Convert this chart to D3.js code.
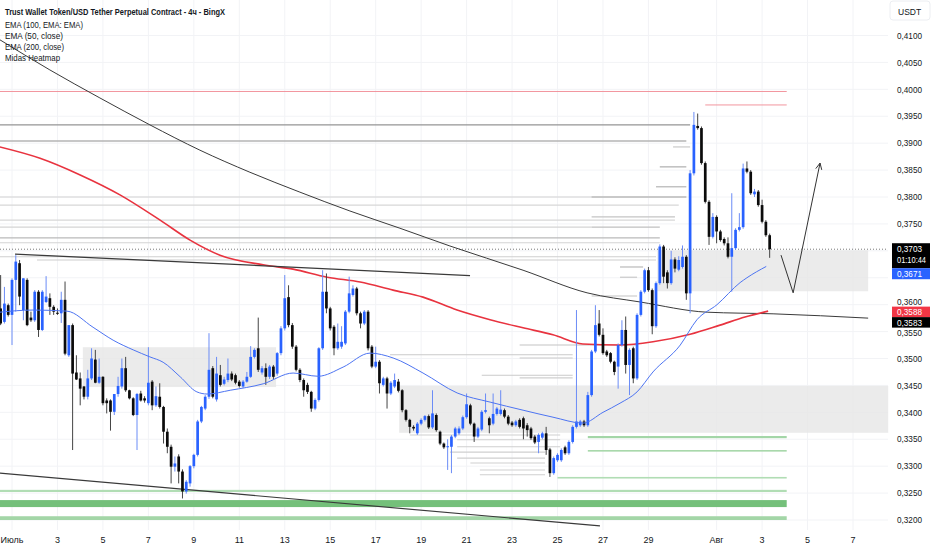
<!DOCTYPE html>
<html><head><meta charset="utf-8">
<script src="https://cdn.jsdelivr.net/npm/d3@7/dist/d3.min.js"></script>
<style>
body{margin:0;background:#fff;}
svg{display:block;font-family:"Liberation Sans","Arial",sans-serif;}
</style>
</head><body>
<svg id="c" width="932" height="550"></svg>
<script>
// ---------- DATA ----------
const title = "Trust Wallet Token/USD Tether Perpetual Contract - 4ч - BingX";
const legendItems = ["EMA (100, EMA: EMA)", "EMA (50, close)", "EMA (200, close)", "Midas Heatmap"];
// 4h candles [open, high, low, close], first = 30 Jun 12:00
const candles = [
[.3593,.3655,.3562,.3565],[.3568,.3633,.3565,.3602],[.3599,.3602,.3578,.3581],[.3581,.3649,.3525,.3646],
[.3646,.3692,.3587,.3680],[.3677,.3683,.3599,.3615],[.3590,.3649,.3571,.3649],[.3646,.3649,.3560,.3562],
[.3576,.3587,.3568,.3571],[.3571,.3627,.3568,.3624],[.3624,.3627,.3540,.3553],[.3553,.3627,.3551,.3624],
[.3605,.3653,.3603,.3615],[.3612,.3621,.3581,.3596],[.3596,.3599,.3581,.3587],[.3585,.3593,.3581,.3583],
[.3584,.3624,.3566,.3609],[.3609,.3643,.3506,.3509],[.3506,.3562,.3503,.3562],[.3562,.3565,.3330,.3472],
[.3474,.3506,.3460,.3461],[.3463,.3474,.3413,.3444],[.3448,.3449,.3424,.3429],[.3429,.3479,.3424,.3463],
[.3463,.3519,.3460,.3500],[.3498,.3516,.3454,.3455],[.3455,.3500,.3453,.3466],[.3466,.3467,.3413,.3417],
[.3422,.3426,.3398,.3417],[.3422,.3424,.3366,.3401],[.3401,.3434,.3395,.3434],[.3434,.3466,.3429,.3449],
[.3448,.3500,.3444,.3482],[.3482,.3503,.3438,.3441],[.3441,.3442,.3424,.3426],[.3426,.3428,.3393,.3395],
[.3395,.3436,.3330,.3434],[.3435,.3440,.3420,.3422],[.3426,.3430,.3418,.3422],[.3417,.3521,.3413,.3455],
[.3457,.3460,.3404,.3413],[.3413,.3448,.3410,.3430],[.3429,.3454,.3407,.3410],[.3410,.3412,.3342,.3364],
[.3364,.3370,.3324,.3336],[.3336,.3340,.3268,.3299],[.3299,.3318,.3290,.3305],[.3318,.3322,.3268,.3290],
[.3290,.3294,.3240,.3253],[.3253,.3274,.3249,.3271],[.3268,.3302,.3262,.3300],[.3300,.3323,.3296,.3321],
[.3321,.3386,.3318,.3383],[.3383,.3412,.3380,.3410],[.3407,.3432,.3404,.3429],[.3429,.3547,.3425,.3479],
[.3482,.3486,.3426,.3429],[.3424,.3503,.3420,.3472],[.3469,.3488,.3448,.3451],[.3453,.3466,.3450,.3461],
[.3460,.3500,.3456,.3472],[.3472,.3476,.3458,.3461],[.3469,.3472,.3452,.3455],[.3457,.3460,.3446,.3449],
[.3448,.3460,.3445,.3457],[.3457,.3475,.3455,.3466],[.3466,.3523,.3464,.3503],[.3503,.3519,.3500,.3516],
[.3519,.3576,.3475,.3479],[.3474,.3486,.3470,.3482],[.3482,.3491,.3451,.3466],[.3466,.3488,.3462,.3485],
[.3485,.3488,.3462,.3466],[.3472,.3512,.3468,.3510],[.3510,.3560,.3506,.3556],[.3556,.3655,.3552,.3612],
[.3614,.3636,.3558,.3562],[.3562,.3566,.3518,.3522],[.3522,.3525,.3476,.3479],[.3479,.3482,.3456,.3460],
[.3460,.3463,.3429,.3441],[.3451,.3455,.3434,.3438],[.3438,.3440,.3401,.3407],[.3407,.3426,.3404,.3423],
[.3423,.3521,.3420,.3519],[.3519,.3664,.3516,.3624],[.3624,.3658,.3584,.3593],[.3593,.3596,.3552,.3556],
[.3559,.3562,.3506,.3519],[.3519,.3565,.3516,.3531],[.3522,.3560,.3518,.3531],[.3528,.3590,.3525,.3587],
[.3587,.3652,.3584,.3621],[.3618,.3636,.3615,.3630],[.3630,.3633,.3580,.3584],[.3584,.3587,.3556,.3565],
[.3565,.3590,.3562,.3587],[.3587,.3590,.3515,.3519],[.3522,.3525,.3482,.3485],[.3485,.3522,.3482,.3494],
[.3494,.3497,.3435,.3454],[.3451,.3466,.3448,.3463],[.3463,.3466,.3407,.3435],[.3435,.3458,.3432,.3455],
[.3448,.3472,.3445,.3460],[.3457,.3462,.3437,.3440],[.3441,.3443,.3400,.3404],[.3404,.3406,.3383,.3386],
[.3386,.3388,.3361,.3373],[.3373,.3376,.3366,.3370],[.3361,.3382,.3358,.3379],[.3379,.3389,.3376,.3386],
[.3386,.3395,.3383,.3393],[.3393,.3396,.3369,.3372],[.3372,.3441,.3369,.3398],[.3395,.3398,.3364,.3367],
[.3364,.3366,.3339,.3342],[.3342,.3344,.3332,.3335],[.3336,.3350,.3293,.3337],[.3336,.3358,.3287,.3355],
[.3355,.3373,.3352,.3370],[.3361,.3374,.3358,.3370],[.3370,.3394,.3367,.3391],[.3391,.3435,.3388,.3415],
[.3413,.3416,.3376,.3379],[.3379,.3381,.3345,.3355],[.3355,.3373,.3352,.3370],[.3368,.3404,.3365,.3401],
[.3401,.3435,.3398,.3404],[.3389,.3392,.3361,.3376],[.3379,.3435,.3376,.3397],[.3397,.3410,.3394,.3407],
[.3397,.3441,.3394,.3405],[.3404,.3407,.3389,.3392],[.3392,.3395,.3376,.3379],[.3381,.3384,.3373,.3376],
[.3376,.3386,.3373,.3383],[.3386,.3389,.3370,.3373],[.3389,.3392,.3350,.3370],[.3376,.3380,.3355,.3367],
[.3370,.3373,.3349,.3352],[.3355,.3358,.3341,.3344],[.3345,.3361,.3324,.3358],[.3353,.3364,.3350,.3361],
[.3361,.3373,.3321,.3330],[.3331,.3334,.3280,.3287],[.3287,.3318,.3284,.3315],[.3311,.3324,.3308,.3321],
[.3311,.3333,.3308,.3330],[.3335,.3338,.3321,.3324],[.3324,.3348,.3321,.3345],[.3345,.3376,.3342,.3373],
[.3373,.3590,.3370,.3383],[.3376,.3386,.3373,.3383],[.3383,.3386,.3373,.3376],[.3376,.3438,.3373,.3432],
[.3432,.3516,.3429,.3513],[.3513,.3599,.3510,.3562],[.3565,.3590,.3541,.3544],[.3544,.3556,.3507,.3510],
[.3513,.3516,.3503,.3506],[.3510,.3512,.3491,.3494],[.3494,.3496,.3469,.3475],[.3485,.3528,.3444,.3525],
[.3525,.3571,.3522,.3553],[.3553,.3578,.3472,.3488],[.3488,.3519,.3432,.3516],[.3519,.3522,.3454,.3463],
[.3463,.3584,.3460,.3581],[.3581,.3627,.3578,.3624],[.3624,.3667,.3621,.3664],[.3664,.3670,.3624,.3627],
[.3627,.3630,.3545,.3560],[.3560,.3643,.3557,.3640],[.3640,.3712,.3637,.3708],[.3708,.3711,.3640,.3652],
[.3660,.3664,.3630,.3640],[.3640,.3700,.3637,.3684],[.3684,.3688,.3660,.3667],[.3665,.3690,.3662,.3683],
[.3670,.3710,.3667,.3689],[.3689,.3692,.3609,.3621],[.3621,.3850,.3584,.3844],[.3844,.3958,.3840,.3934],
[.3932,.3955,.3925,.3928],[.3928,.3931,.3860,.3863],[.3863,.3866,.3788,.3791],[.3791,.3794,.3711,.3726],
[.3726,.3770,.3723,.3763],[.3763,.3766,.3714,.3736],[.3736,.3739,.3717,.3720],[.3722,.3725,.3710,.3714],
[.3714,.3725,.3686,.3689],[.3689,.3807,.3624,.3705],[.3705,.3742,.3702,.3739],[.3739,.3770,.3736,.3744],
[.3744,.3862,.3741,.3853],[.3853,.3866,.3844,.3847],[.3847,.3850,.3804,.3807],[.3805,.3815,.3800,.3810],
[.3810,.3813,.3782,.3785],[.3785,.3795,.3751,.3754],[.3754,.3757,.3726,.3729],[.3729,.3732,.3687,.3703]
];
// [bar index, value]
const ema50 = [[-0.2,.3586],[8.5,.3590],[17.5,.3588],[24.4,.3558],[29.7,.3534],[35,.3516],[39.4,.3503],[42.9,.3493],
[47.4,.3466],[51.8,.3438],[54.5,.3434],[60.6,.3441],[69.3,.3453],[77.2,.3473],[83.8,.3467],[90.4,.3484],[97.5,.3510],
[103.6,.3501],[111.5,.3473],[120.5,.3436],[129.2,.3419],[137.9,.3404],[145.8,.3391],[153.7,.3380],[159,.3400],
[163.5,.3417],[168,.3438],[172.2,.3475],[179.4,.3525],[183.8,.3572],[189.1,.3600],[195.2,.3641],[197,.3650],[202.1,.3671]];
const ema200 = [[-0.2,.3893],[10.4,.3872],[21,.3841],[31.5,.3804],[42.1,.3757],[50,.3720],[57.9,.3692],[69.3,.3674],
[77.2,.3666],[86.2,.3651],[94.9,.3642],[103.6,.3627],[111.5,.3614],[120.5,.3590],[129.2,.3572],[137.9,.3557],
[145.8,.3544],[153.7,.3527],[163.5,.3525],[172.2,.3531],[182,.3545],[189.9,.3562],[196.5,.3577],[202.6,.3588]];
const ema100 = [[-0.2,.4092],[13,.4036],[26.2,.3984],[39.4,.3934],[52.6,.3887],[65.8,.3846],[79,.3809],[92.2,.3774],
[105.4,.3742],[118.6,.3709],[137.9,.3664],[154.8,.3622],[168.8,.3605],[186.5,.3586],[203.9,.3583],[229,.3575]];
const trendlines = [[[3.8,.3694],[123.9,.3654]], [[-0.2,.3287],[158.2,.3189]]];
const arrowPts = [[206,.3692],[209.2,.3622],[216.3,.3863]];
// heatmap levels [price, fromBar, toBar, strength]
const heatLevels = [
[.3934,-1,182,.75],[.3904,-1,181,.45],[.3893,177.5,182,.3],[.3856,174,181,.45],[.3819,173,181,.4],
[.3800,-1,181,.15],[.3800,156,181,.35],[.3785,-1,179,.12],[.3763,156,178,.3],[.3757,-1,178,.12],
[.3744,-1,156,.15],[.3744,156,174,.35],[.3724,-1,174,.4],[.3715,-1,174,.15],[.3689,-1,173,.2],[.3683,9.6,173,.22],
[.3670,163.5,169.6,.35],[.3651,163.5,168,.3],[.3616,156,168,.3],[.3525,137,168,.3],[.3507,102.8,151,.25],
[.3501,137,151,.25],[.3469,127,151,.25],[.3464,137,151,.2],[.3358,108,147.7,.2],[.3349,120.5,147.7,.2],
[.3336,120.5,147.7,.2],[.3326,118.6,143.7,.2],[.3315,120.5,143.7,.2],[.3306,124,143.7,.2],[.3293,126.5,143.7,.2],
[.3284,126.5,143.7,.2]];
const redLevels = [[.3996,-1,207.5],[.3971,186,207.5]];
// support bands [top, bottom, fromBar, toBar, strength]
const greenBands = [[.3356,.3352,155,207.5,.5],[.3330,.3327,155,207.5,.45],[.3280,.3277,147,207.5,.35],
[.3256,.3252,-1,207.5,.35],[.3237,.3224,-1,207.5,1],[.3207,.3200,-1,207.5,.5]];
// zones [top, bottom, fromBar, toBar]
const zones = [[.3701,.3625,173.3,229],[.3449,.3362,105.2,234.3],[.3521,.3447,21.7,72.7]];
const priceTicks = [.3200,.3250,.3300,.3350,.3400,.3450,.3500,.3550,.3600,.3650,.3700,.3750,.3800,.3850,.3900,.3950,.4000,.4050,.4100];
const dateTicks = [[3,"Июль"],[15,"3"],[27,"5"],[39,"7"],[51,"9"],[63,"11"],[75,"13"],[87,"15"],[99,"17"],[111,"19"],
[123,"21"],[135,"23"],[147,"25"],[159,"27"],[171,"29"],[189,"Авг"],[201,"3"],[213,"5"],[225,"7"]];
const lastPrice = .3703, timer = "01:10:44", ema50Last = .3671, ema200Last = .3588, ema100Last = .3583;

// ---------- DRAW ----------
const plotR = 888, plotB = 530;
const svg = d3.select("#c");
const x = d3.scaleLinear().domain([3, 225]).range([12, 853]);
const y = d3.scaleLinear().domain([0.32, 0.41]).range([520, 35.5]);
const fmt = v => d3.format(".4f")(v).replace(".", ",");

const g = svg.append("g");
g.selectAll(".hg").data(priceTicks).join("line").attr("x1",0).attr("x2",plotR)
 .attr("y1",d=>y(d)).attr("y2",d=>y(d)).attr("stroke","#f2f3f6").attr("stroke-width",1);
g.selectAll(".vg").data(dateTicks).join("line").attr("x1",d=>x(d[0])).attr("x2",d=>x(d[0]))
 .attr("y1",0).attr("y2",plotB).attr("stroke","#f2f3f6").attr("stroke-width",1);

g.selectAll(".zone").data(zones).join("rect")
 .attr("x",d=>x(d[2])).attr("width",d=>x(d[3])-x(d[2]))
 .attr("y",d=>y(d[0])).attr("height",d=>y(d[1])-y(d[0]))
 .attr("fill","#e6e6e6").attr("opacity",0.8);

const clipX = v => Math.max(0, Math.min(plotR, v));
g.selectAll(".heat").data(heatLevels).join("line")
 .attr("x1",d=>clipX(x(d[1]))).attr("x2",d=>clipX(x(d[2])))
 .attr("y1",d=>y(d[0])).attr("y2",d=>y(d[0]))
 .attr("stroke",d=>d3.interpolateRgb("#e4e4e4","#7a7a7a")(d[3]))
 .attr("stroke-width",d=>d[3]>0.3?1.3:1.1);
g.selectAll(".red").data(redLevels).join("line")
 .attr("x1",d=>clipX(x(d[1]))).attr("x2",d=>clipX(x(d[2])))
 .attr("y1",d=>y(d[0])).attr("y2",d=>y(d[0]))
 .attr("stroke","#f08a93").attr("stroke-width",0.9);
g.selectAll(".green").data(greenBands).join("rect")
 .attr("x",d=>clipX(x(d[2]))).attr("width",d=>clipX(x(d[3]))-clipX(x(d[2])))
 .attr("y",d=>y(d[0])).attr("height",d=>Math.max(1.5,y(d[1])-y(d[0])))
 .attr("fill",d=>d3.interpolateRgb("#d2ecd3","#74c07a")(d[4]));

g.append("line").attr("x1",0).attr("x2",plotR).attr("y1",y(lastPrice)).attr("y2",y(lastPrice))
 .attr("stroke","#555").attr("stroke-width",0.8).attr("stroke-dasharray","1,2");

const line = d3.line().x(d=>x(d[0])).y(d=>y(d[1])).curve(d3.curveMonotoneX);
g.append("path").attr("d",line(ema100)).attr("fill","none").attr("stroke","#3a3a3a").attr("stroke-width",1);
g.append("path").attr("d",line(ema200)).attr("fill","none").attr("stroke","#e8333f").attr("stroke-width",1.6);
trendlines.forEach(t=>{
  g.append("line").attr("x1",x(t[0][0])).attr("y1",y(t[0][1])).attr("x2",x(t[1][0])).attr("y2",y(t[1][1]))
   .attr("stroke","#3a3a3a").attr("stroke-width",1.2);
});

const bw = 2.7;
const cg = g.append("g");
candles.forEach((c,i)=>{
  const [o,h,l,cl] = c, up = cl >= o, cx = x(i);
  cg.append("line").attr("x1",cx).attr("x2",cx).attr("y1",y(h)).attr("y2",y(l))
    .attr("stroke", up ? "#6b8cf6" : "#444").attr("stroke-width",1);
  const top = y(Math.max(o,cl)), bot = y(Math.min(o,cl));
  cg.append("rect").attr("x",cx-bw/2).attr("width",bw).attr("y",top).attr("height",Math.max(1,bot-top))
    .attr("fill", up ? "#2962ff" : "#0b0b0b");
});
g.append("path").attr("d",line(ema50)).attr("fill","none").attr("stroke","#4d74f2").attr("stroke-width",1);

const ap = arrowPts.map(d=>[x(d[0]),y(d[1])]);
g.append("path").attr("d",d3.line()(ap)).attr("fill","none").attr("stroke","#333").attr("stroke-width",1);
{
  const [x1,y1]=ap[ap.length-2],[x2,y2]=ap[ap.length-1];
  const ang=Math.atan2(y2-y1,x2-x1), L=7;
  [0.45,-0.45].forEach(da=>{
    g.append("line").attr("x1",x2).attr("y1",y2)
     .attr("x2",x2-L*Math.cos(ang+da)).attr("y2",y2-L*Math.sin(ang+da))
     .attr("stroke","#333").attr("stroke-width",1);
  });
}

// ---------- price axis ----------
const ax = svg.append("g");
const tagX = 892, tagW = 38, fs = 9;
const ly = y(lastPrice), ry = y(ema200Last);
const tags = [
  {top: ly-6, h: 25, fill:"#000", lines:[fmt(lastPrice), timer]},
  {top: ly+19, h: 11, fill:"#2962ff", lines:[fmt(ema50Last)]},
  {top: ry-4.5, h: 10.5, fill:"#f23645", lines:[fmt(ema200Last)]},
  {top: ry+6, h: 10.5, fill:"#000", lines:[fmt(ema100Last)]}
];
// place tick labels, shifting them off the tags or hiding them when fully covered
const tickPos = priceTicks.map(p=>{
  let b = y(p)+3.2, top = b-7.6, bot = b+1.8, show = true;
  tags.forEach(t=>{
    const t0=t.top, t1=t.top+t.h;
    if (bot > t0 && top < t1) {
      const up = bot - t0, down = t1 - top;
      if (Math.min(up,down) > 4.5) show = false;
      else if (up < down) b -= up + 0.3; else b += down + 0.3;
    }
  });
  return {p, b, show};
}).filter(d=>d.show);
ax.selectAll(".pt").data(tickPos).join("text").attr("x",897).attr("y",d=>d.b)
 .attr("font-size",fs).attr("fill","#131722").attr("textLength",25).attr("lengthAdjust","spacingAndGlyphs")
 .text(d=>fmt(d.p));
ax.append("rect").attr("x",890).attr("y",1).attr("width",40).attr("height",19).attr("rx",3)
 .attr("fill","#fff").attr("stroke","#eceef2");
ax.append("text").attr("x",898).attr("y",14.5).attr("font-size",8.5).attr("fill","#131722").text("USDT");

tags.forEach(t=>{
  ax.append("rect").attr("x",tagX).attr("y",t.top).attr("width",tagW).attr("height",t.h).attr("fill",t.fill);
  t.lines.forEach((s,k)=>{
    ax.append("text").attr("x",897).attr("y",t.top+8.6+k*11.5).attr("font-size",fs).attr("fill","#fff")
      .attr("textLength", s.length>6?29:25).attr("lengthAdjust","spacingAndGlyphs").text(s);
  });
});

// ---------- time axis ----------
svg.selectAll(".dt").data(dateTicks).join("text").attr("x",d=>x(d[0])).attr("y",543)
 .attr("text-anchor","middle").attr("font-size",9).attr("fill","#131722").text(d=>d[1]);

// ---------- legend ----------
const lg = svg.append("g");
lg.append("text").attr("x",5).attr("y",15).attr("font-size",9.5).attr("font-weight","bold").attr("fill","#131722")
  .attr("textLength",220).attr("lengthAdjust","spacingAndGlyphs").text(title);
const legW = [78, 58, 59, 55];
legendItems.forEach((t,i)=>{
  lg.append("text").attr("x",5).attr("y",27.5+i*11.1).attr("font-size",9.5).attr("fill","#131722")
    .attr("textLength",legW[i]).attr("lengthAdjust","spacingAndGlyphs").text(t);
});
</script>
</body></html>
